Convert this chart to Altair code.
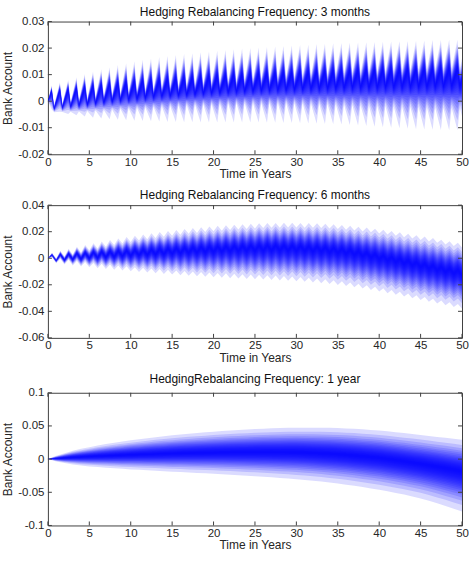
import altair as alt
import pandas as pd

# ---------------- text ----------------
titles = ["Hedging Rebalancing Frequency: 3 months",
          "Hedging Rebalancing Frequency: 6 months",
          "HedgingRebalancing Frequency: 1 year"]
x_title = "Time in Years"
y_title = "Bank Account"
x_ticks = [0, 5, 10, 15, 20, 25, 30, 35, 40, 45, 50]
y1_ticks = [-0.02, -0.01, 0, 0.01, 0.02, 0.03]
y2_ticks = [-0.06, -0.04, -0.02, 0, 0.02, 0.04]
y3_ticks = [-0.1, -0.05, 0, 0.05, 0.1]

# fan levels (relative quantile widths, outermost = 1)
band_levels = [1.0, .839, .735, .653, .587, .531, .477, .429, .385, .344,
               .305, .267, .231, .196, .163, .129, .096, .064, .032]

# ---------------- panel 1: 3-month rebalancing (per tooth) ----------------
p1_peak_upper = [.0060, .0071, .0080, .0090, .0102, .0112, .0120, .0128, .0136, .0143,
                 .0150, .0156, .0161, .0166, .0170, .0174, .0178, .0181, .0184, .0187,
                 .0190, .0193, .0196, .0198, .0200, .0202, .0204, .0206, .0208, .0210,
                 .0212, .0213, .0215, .0216, .0218, .0219, .0220, .0221, .0222, .0223,
                 .0224, .0225, .0226, .0227, .0228, .0229, .0230, .0230, .0231, .0231, .0231]
p1_peak_lower = [-.0030, -.0040, -.0048, -.0053, -.0058, -.0062, -.0065, -.0068, -.0070, -.0072,
                 -.0074, -.0075, -.0076, -.0077, -.0078, -.0078, -.0079, -.0079, -.0080, -.0080,
                 -.0080, -.0080, -.0080, -.0080, -.0080, -.0080, -.0081, -.0081, -.0082, -.0082,
                 -.0083, -.0084, -.0085, -.0086, -.0087, -.0088, -.0090, -.0092, -.0094, -.0096,
                 -.0098, -.0100, -.0102, -.0104, -.0106, -.0107, -.0108, -.0109, -.0110, -.0110, -.0110]
p1_peak_center = [.0040, .0043, .0047, .0051, .0055, .0059, .0063, .0066, .0069, .0072,
                  .0075, .0078, .0080, .0082, .0084, .0086, .0088, .0090, .0092, .0094,
                  .0096, .0098, .0099, .0101, .0102, .0104, .0105, .0106, .0107, .0108,
                  .0109, .0110, .0111, .0112, .0113, .0114, .0115, .0116, .0117, .0118,
                  .0119, .0120, .0120, .0121, .0121, .0122, .0122, .0123, .0123, .0124, .0124]
p1_trough_center = [-.0028, -.0024, -.0020, -.0016, -.0012, -.0008, -.0004, .0000, .0004, .0007,
                    .0010, .0013, .0016, .0019, .0021, .0023, .0025, .0027, .0029, .0031,
                    .0033, .0035, .0036, .0038, .0039, .0041, .0042, .0043, .0044, .0045,
                    .0046, .0047, .0048, .0049, .0050, .0051, .0052, .0052, .0053, .0053,
                    .0054, .0054, .0055, .0055, .0056, .0056, .0057, .0057, .0058, .0058]
p1_trough_upper = [-.0014, -.0008, -.0002, .0004, .0010, .0015, .0020, .0025, .0030, .0034,
                   .0038, .0042, .0046, .0050, .0053, .0056, .0059, .0062, .0065, .0068,
                   .0071, .0074, .0076, .0079, .0081, .0084, .0086, .0088, .0090, .0092,
                   .0094, .0096, .0098, .0100, .0102, .0104, .0106, .0107, .0109, .0110,
                   .0112, .0113, .0115, .0116, .0118, .0119, .0121, .0122, .0123, .0124]
p1_trough_lower = [-.0042, -.0041, -.0040, -.0039, -.0037, -.0035, -.0033, -.0031, -.0029, -.0027,
                   -.0025, -.0023, -.0021, -.0019, -.0017, -.0015, -.0014, -.0013, -.0012, -.0011,
                   -.0010, -.0009, -.0008, -.0008, -.0007, -.0007, -.0007, -.0007, -.0007, -.0008,
                   -.0008, -.0009, -.0010, -.0011, -.0012, -.0013, -.0014, -.0015, -.0016, -.0017,
                   -.0018, -.0019, -.0020, -.0021, -.0022, -.0023, -.0024, -.0025, -.0026, -.0027]

# ---------------- panel 2: 6-month rebalancing (per year: mid level + swing) ----------------
p2_center = [.0003, .0008, .0012, .0016, .0020, .0024, .0028, .0031, .0035, .0038,
             .0041, .0044, .0047, .0050, .0053, .0056, .0059, .0062, .0065, .0067,
             .0069, .0071, .0073, .0075, .0076, .0077, .0078, .0078, .0077, .0076,
             .0074, .0071, .0068, .0064, .0059, .0053, .0045, .0035, .0024, .0012,
             .0001, -.0010, -.0022, -.0035, -.0048, -.0061, -.0073, -.0085, -.0097, -.0108]
p2_upper = [.0020, .0035, .0050, .0065, .0080, .0093, .0106, .0118, .0130, .0141,
            .0151, .0161, .0170, .0179, .0187, .0195, .0202, .0209, .0215, .0221,
            .0226, .0231, .0235, .0239, .0242, .0245, .0247, .0248, .0249, .0249,
            .0248, .0247, .0245, .0242, .0238, .0233, .0227, .0220, .0213, .0205,
            .0196, .0187, .0177, .0167, .0156, .0145, .0134, .0122, .0110, .0098]
p2_lower = [-.0015, -.0025, -.0033, -.0041, -.0048, -.0055, -.0061, -.0067, -.0073, -.0079,
            -.0085, -.0090, -.0095, -.0100, -.0105, -.0110, -.0114, -.0118, -.0122, -.0126,
            -.0129, -.0132, -.0135, -.0138, -.0140, -.0143, -.0146, -.0149, -.0152, -.0156,
            -.0160, -.0165, -.0170, -.0176, -.0183, -.0191, -.0200, -.0210, -.0221, -.0233,
            -.0245, -.0258, -.0271, -.0284, -.0297, -.0310, -.0323, -.0336, -.0349, -.0362]
p2_swing = [.0022, .0022, .0021, .0021, .0020, .0020, .0020, .0019, .0019, .0019,
            .0018, .0018, .0018, .0018, .0018, .0018, .0018, .0018, .0018, .0018,
            .0018, .0018, .0018, .0018, .0018, .0018, .0018, .0018, .0018, .0018,
            .0018, .0018, .0018, .0018, .0018, .0018, .0018, .0018, .0018, .0018,
            .0018, .0018, .0018, .0018, .0018, .0018, .0018, .0018, .0018, .0018]

# ---------------- panel 3: 1-year rebalancing (per year 0..50) ----------------
p3_center = [.0000, .0010, .0018, .0026, .0033, .0040, .0045, .0050, .0055, .0060,
             .0065, .0069, .0073, .0077, .0081, .0085, .0088, .0091, .0094, .0096,
             .0098, .0100, .0102, .0103, .0104, .0105, .0105, .0105, .0104, .0104,
             .0103, .0099, .0094, .0088, .0082, .0075, .0066, .0055, .0044, .0032,
             .0020, .0003, -.0014, -.0032, -.0051, -.0070, -.0091, -.0112, -.0134, -.0157, -.0180]
p3_upper = [.0000, .0050, .0090, .0125, .0155, .0180, .0204, .0226, .0246, .0265,
            .0283, .0300, .0316, .0331, .0345, .0358, .0370, .0382, .0393, .0403,
            .0413, .0422, .0431, .0439, .0446, .0453, .0459, .0464, .0468, .0471,
            .0473, .0474, .0474, .0473, .0471, .0468, .0463, .0457, .0449, .0440,
            .0430, .0418, .0405, .0392, .0378, .0364, .0350, .0335, .0320, .0305, .0290]
p3_lower = [.0000, -.0035, -.0060, -.0080, -.0097, -.0110, -.0120, -.0129, -.0138, -.0147,
            -.0155, -.0162, -.0169, -.0176, -.0183, -.0190, -.0196, -.0202, -.0208, -.0214,
            -.0220, -.0227, -.0234, -.0242, -.0250, -.0258, -.0266, -.0275, -.0284, -.0293,
            -.0303, -.0314, -.0326, -.0339, -.0353, -.0368, -.0385, -.0403, -.0422, -.0442,
            -.0463, -.0486, -.0510, -.0535, -.0562, -.0592, -.0626, -.0666, -.0706, -.0747, -.0790]

# ---------------- build tables ----------------
def fan_table(ts, cs, us, ls):
    rows = []
    for b, lev in enumerate(band_levels):
        for t, c, u, l in zip(ts, cs, us, ls):
            rows.append({"t": t, "band": b,
                         "lo": c - (c - l) * lev,
                         "hi": c + (u - c) * lev})
    return pd.DataFrame(rows)

# panel 1: start, then peak (k+0.45) and trough (k+0.75) for each year
t1, c1, u1, l1 = [0.0], [0.0], [0.0], [0.0]
for k in range(51):
    t1.append(k + 0.45); c1.append(p1_peak_center[k]); u1.append(p1_peak_upper[k]); l1.append(p1_peak_lower[k])
    if k < 50:
        t1.append(k + 0.75); c1.append(p1_trough_center[k]); u1.append(p1_trough_upper[k]); l1.append(p1_trough_lower[k])
df1 = fan_table(t1, c1, u1, l1)

# panel 2: start, then peak (k+0.5) and trough (k+1)
t2, c2, u2, l2 = [0.0], [0.0], [0.0], [0.0]
for k in range(50):
    s = p2_swing[k]
    t2.append(k + 0.5); c2.append(p2_center[k] + s); u2.append(p2_upper[k] + s); l2.append(p2_lower[k] + s)
    t2.append(k + 1.0); c2.append(p2_center[k] - s); u2.append(p2_upper[k] - s); l2.append(p2_lower[k] - s)
df2 = fan_table(t2, c2, u2, l2)

t3 = list(range(51))
df3 = fan_table(t3, p3_center, p3_upper, p3_lower)

W, H = 415, 133
AX = "#404040"
label_expr = "(datum.value < 0 ? '-' : '') + format(abs(datum.value), '~g')"


def panel(df, title, ydom, yticks, toff):
    xs = alt.Scale(domain=[0, 50], nice=False, zero=False)
    ys = alt.Scale(domain=ydom, nice=False, zero=False)
    xa = alt.Axis(values=x_ticks, title=x_title, labelFlush=False, labelOverlap=False)
    ya = alt.Axis(values=yticks, title=y_title, labelExpr=label_expr,
                  labelFlush=False, labelOverlap=False)
    area = alt.Chart(df).mark_area(color="#0000ff", opacity=0.14, clip=True,
                                   strokeWidth=0).encode(
        x=alt.X("t:Q", scale=xs, axis=xa),
        y=alt.Y("lo:Q", scale=ys, axis=ya),
        y2="hi:Q",
        detail="band:N",
    )
    xt = pd.DataFrame({"v": x_ticks})
    yt = pd.DataFrame({"v": yticks})
    rx_b = alt.Chart(xt).mark_rule(color=AX, strokeWidth=1).encode(
        x=alt.X("v:Q", scale=xs, axis=xa), y=alt.value(H), y2=alt.value(H - 4))
    rx_t = alt.Chart(xt).mark_rule(color=AX, strokeWidth=1).encode(
        x=alt.X("v:Q", scale=xs, axis=xa), y=alt.value(0), y2=alt.value(4))
    ry_l = alt.Chart(yt).mark_rule(color=AX, strokeWidth=1).encode(
        y=alt.Y("v:Q", scale=ys, axis=ya), x=alt.value(0), x2=alt.value(4))
    ry_r = alt.Chart(yt).mark_rule(color=AX, strokeWidth=1).encode(
        y=alt.Y("v:Q", scale=ys, axis=ya), x=alt.value(W), x2=alt.value(W - 4))
    return alt.layer(area, rx_b, rx_t, ry_l, ry_r).properties(
        width=W, height=H, title=alt.TitleParams(title, offset=toff))


chart = alt.vconcat(
    panel(df1, titles[0], [-0.02, 0.03], y1_ticks, -3),
    panel(df2, titles[1], [-0.06, 0.04], y2_ticks, -3),
    panel(df3, titles[2], [-0.1, 0.1], y3_ticks, 1),
    spacing=8,
).properties(
    padding={"left": 1, "top": 4, "right": 0, "bottom": 0},
    background="white",
).configure_view(
    stroke=AX, strokeWidth=1,
).configure_axis(
    labelFont="Liberation Sans", labelFontSize=11.5, labelColor="#262626",
    titleFont="Liberation Sans", titleFontSize=12, titleFontWeight="normal",
    titleColor="#262626", tickSize=0, domain=False, grid=False, labelPadding=4,
    labelOverlap=False,
).configure_axisX(
    titlePadding=1, labelPadding=2,
).configure_axisY(
    titlePadding=3,
).configure_title(
    font="Liberation Sans", fontSize=12, fontWeight="normal", color="#111111",
    anchor="middle",
)

chart.save("out.html", embed_options={"renderer": "svg", "actions": False})
